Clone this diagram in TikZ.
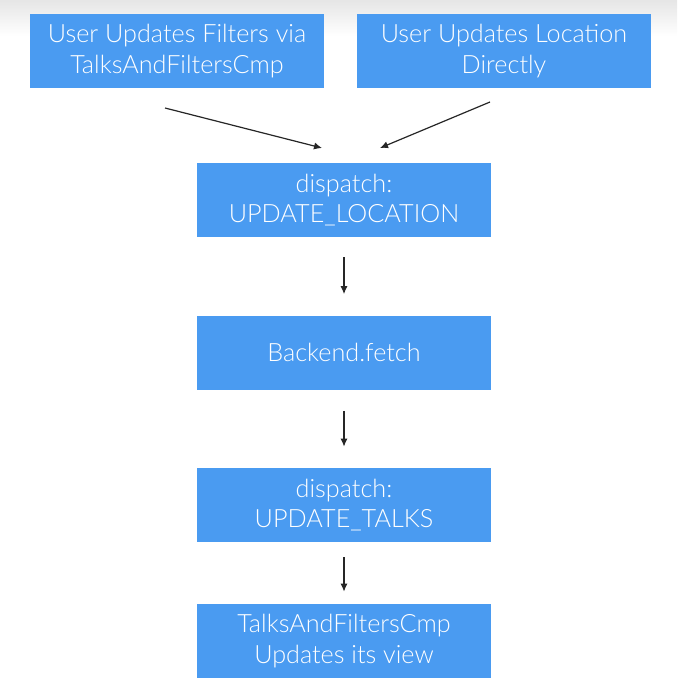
\documentclass[tikz,border=0pt]{standalone}
\usepackage{fontspec}
\setmainfont{Lato}[UprightFont=* Light]
\usepackage{tikz}
\usetikzlibrary{positioning, arrows.meta}

\definecolor{stepblue}{HTML}{4A9BF1}

\begin{document}
\begin{tikzpicture}[
    x=0.5pt, y=-0.5pt,
    font=\fontsize{12.6}{15.2}\selectfont,
    stepbox/.style={
        fill=stepblue, text=white, draw=none,
        minimum width=147pt, minimum height=37pt,
        align=center, inner sep=2pt,
    },
    arrow/.style={-{Latex[length=4pt, width=3.6pt]}, draw=black!85, line width=0.6pt},
]

% frame and the grey fade at the top
\useasboundingbox (0,0) rectangle (677,700);
\fill[white] (0,0) rectangle (677,700);
\shade[top color=black!10, bottom color=white] (0,0) rectangle (677,36);

\node[stepbox] (filters) at (177,51) {User Updates Filters via\\TalksAndFiltersCmp};
\node[stepbox] (location) at (504,51) {User Updates Location\\Directly};
\node[stepbox] (dlocation) at (344,200) {dispatch:\\UPDATE\_LOCATION};
\node[stepbox] (fetch) at (344,352.5) {Backend.fetch};
\node[stepbox] (dtalks) at (344,505) {dispatch:\\UPDATE\_TALKS};
\node[stepbox] (view) at (344,641) {TalksAndFiltersCmp\\Updates its view};

\coordinate (fromfilters) at (165,108);
\coordinate (tofilters) at (322,148);
\coordinate (fromlocation) at (490,102);
\coordinate (tolocation) at (380,148);

\draw[arrow] (fromfilters) -- (tofilters);
\draw[arrow] (fromlocation) -- (tolocation);
\draw[arrow, shorten <=10pt, shorten >=10.5pt] (dlocation) -- (fetch);
\draw[arrow, shorten <=10.5pt, shorten >=10.5pt] (fetch) -- (dtalks);
\draw[arrow, shorten <=7.5pt, shorten >=6pt] (dtalks) -- (view);

\end{tikzpicture}
\end{document}
